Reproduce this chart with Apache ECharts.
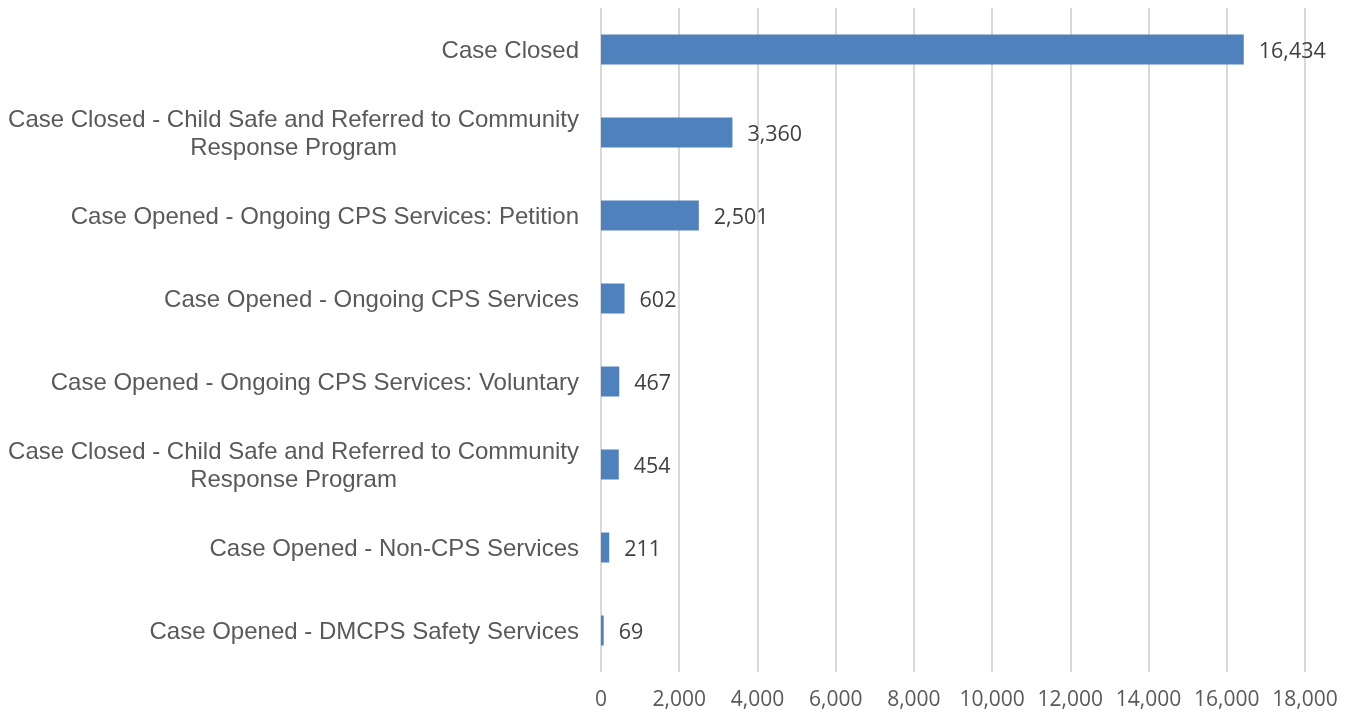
<!DOCTYPE html>
<html>
<head>
<meta charset="utf-8">
<script src="https://cdn.jsdelivr.net/npm/echarts@6/dist/echarts.min.js"></script>
<style>
	html, body { margin: 0; padding: 0; background: #fff; }
	#chart { width: 1351px; height: 717px; }
</style>
</head>
<body>
<div id="chart"></div>
<script>
// categories listed top to bottom
var categories = [
	'Case Closed',
	'Case Closed - Child Safe and Referred to Community\nResponse Program',
	'Case Opened - Ongoing CPS Services: Petition',
	'Case Opened - Ongoing CPS Services',
	'Case Opened - Ongoing CPS Services: Voluntary',
	'Case Closed - Child Safe and Referred to Community\nResponse Program',
	'Case Opened - Non-CPS Services',
	'Case Opened - DMCPS Safety Services'
];
var values = [16434, 3360, 2501, 602, 467, 454, 211, 69];

function fmtNum(v) {
	return String(v).replace(/\B(?=(\d{3})+(?!\d))/g, ',');
}

var myChart = echarts.init(document.getElementById('chart'));

var option = {
	animation: false,
	grid: {
		left: 601,
		right: 46,
		top: 8,
		bottom: 45,
		containLabel: false
	},
	xAxis: {
		type: 'value',
		min: 0,
		max: 18000,
		interval: 2000,
		axisLine: { show: false },
		axisTick: { show: false },
		splitLine: { lineStyle: { color: '#d9d9d9', width: 2 } },
		axisLabel: {
			margin: 18,
			color: '#595959',
			fontSize: 21,
			fontFamily: 'Open Sans',
			formatter: function(v) { return fmtNum(v); }
		}
	},
	yAxis: {
		type: 'category',
		inverse: true,
		data: categories,
		axisLine: { show: false },
		axisTick: { show: false },
		axisLabel: {
			margin: 22,
			color: '#595959',
			fontSize: 24,
			fontFamily: 'Liberation Sans',
			lineHeight: 28,
			formatter: function(v) {
				return v.split('\n').map(function(s) { return '{c|' + s + '}'; }).join('\n');
			},
			rich: {
				c: {
					align: 'center',
					color: '#595959',
					fontSize: 24,
					fontFamily: 'Liberation Sans',
					lineHeight: 28,
					padding: [3, 0, 0, 0]
				}
			}
		}
	},
	series: [{
		type: 'bar',
		data: values,
		barWidth: 30,
		itemStyle: { color: '#4f81bd' },
		label: {
			show: true,
			position: 'right',
			distance: 15,
			offset: [0, 2],
			color: '#404040',
			fontSize: 21.5,
			fontFamily: 'Open Sans',
			formatter: function(p) { return fmtNum(p.value); }
		}
	}]
};

myChart.setOption(option);
</script>
</body>
</html>
